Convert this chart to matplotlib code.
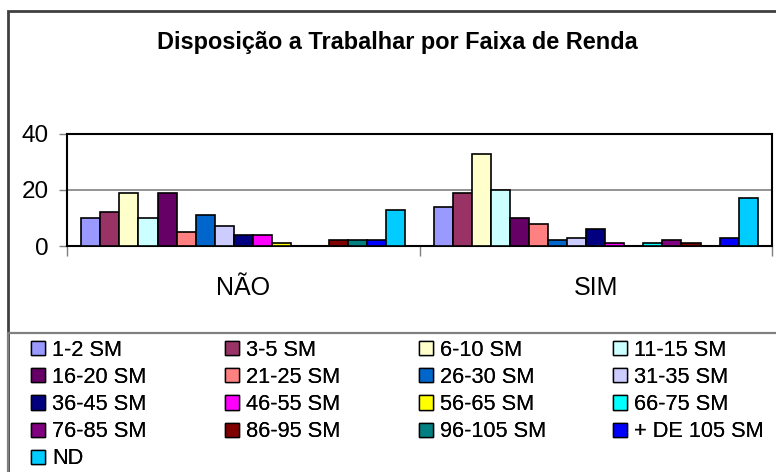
import matplotlib
matplotlib.use("Agg")
import matplotlib.pyplot as plt
from matplotlib.patches import Rectangle, Patch
import numpy as np

plt.rcParams['font.family'] = ['Liberation Sans', 'DejaVu Sans']

categories = ["NÃO", "SIM"]
series = ["1-2 SM", "3-5 SM", "6-10 SM", "11-15 SM", "16-20 SM", "21-25 SM",
          "26-30 SM", "31-35 SM", "36-45 SM", "46-55 SM", "56-65 SM", "66-75 SM",
          "76-85 SM", "86-95 SM", "96-105 SM", "+ DE 105 SM", "ND"]
nao_values = [10, 12, 19, 10, 19, 5, 11, 7, 4, 4, 1, 0, 0, 2, 2, 2, 13]
sim_values = [14, 19, 33, 20, 10, 8, 2, 3, 6, 1, 0, 1, 2, 1, 0, 3, 17]
colors = ["#9999FF", "#993366", "#FFFFCC", "#CCFFFF", "#660066", "#FF8080",
          "#0066CC", "#CCCCFF", "#000080", "#FF00FF", "#FFFF00", "#00FFFF",
          "#800080", "#800000", "#008080", "#0000FF", "#00CCFF"]
title = "Disposição a Trabalhar por Faixa de Renda"

W, H = 776, 472
fig = plt.figure(figsize=(W / 100, H / 100), dpi=100)

def fx(px):
    return px / W

def fy(py):
    return 1 - py / H

# chart area border
fig.patches.append(Rectangle((fx(8), fy(490)), fx(800) - fx(8), fy(11) - fy(490),
                             transform=fig.transFigure, fill=False,
                             edgecolor="#404040", linewidth=2, zorder=0))
# legend box
fig.patches.append(Rectangle((fx(8), fy(490)), fx(800) - fx(8), fy(333) - fy(490),
                             transform=fig.transFigure, fill=False,
                             edgecolor="#808080", linewidth=1.6, zorder=0))

ax = fig.add_axes([fx(67), fy(246), fx(772) - fx(67), fy(134) - fy(246)])

n = len(series)
slots = n + 1.5
bw = 1.0 / slots
data = np.array([nao_values, sim_values])
for j in range(n):
    xs = [i + (0.75 + j) / slots for i in range(len(categories))]
    ax.bar(xs, data[:, j], width=bw, align="edge", color=colors[j],
           edgecolor="black", linewidth=1.2, zorder=3)

ax.set_xlim(0, 2)
ax.set_ylim(0, 40)
ax.set_yticks([0, 20, 40])
ax.set_yticklabels(["0", "20", "40"], fontsize=17.5)
ax.tick_params(axis="y", length=6, width=1, color="#808080", pad=7)
ax.yaxis.grid(True, color="#808080", linewidth=1.2, zorder=1)
ax.set_xticks([0, 1, 2])
ax.set_xticklabels([])
ax.tick_params(axis="x", which="major", length=7, width=1, color="#808080")
for i, c in enumerate(categories):
    ax.annotate(c, xy=(i + 0.5, 0), xycoords=("data", "axes fraction"),
                xytext=(0, -49), textcoords="offset pixels",
                ha="center", va="baseline", fontsize=18)
for s in ax.spines.values():
    s.set_color("black")
    s.set_linewidth(1.5)

fig.text(fx(397), fy(43), title, ha="center", va="center",
         fontsize=16.9, fontweight="bold")

handles = [Patch(facecolor=colors[j], edgecolor="black", linewidth=1.0) for j in range(n)]
ncol = 4
col_x = [31, 225, 419, 613]
for c in range(ncol):
    idx = list(range(c, n, ncol))
    leg = fig.legend([handles[k] for k in idx], [series[k] for k in idx],
                     ncol=1, loc="upper left", bbox_to_anchor=(fx(col_x[c]), fy(340)),
                     frameon=False, fontsize=15.7, handlelength=0.66, handleheight=0.62,
                     handletextpad=0.32, labelspacing=0.28,
                     borderaxespad=0, borderpad=0)
    fig.add_artist(leg)

fig.savefig("out.png", dpi=100)
